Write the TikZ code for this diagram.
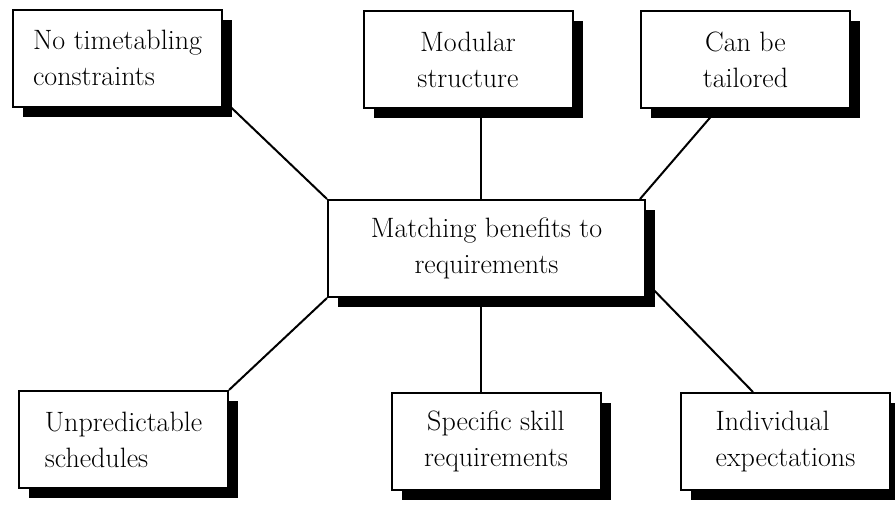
\documentclass[tikz,border=0pt]{standalone}
\usetikzlibrary{shadows,backgrounds}
\begin{document}
\begin{tikzpicture}[
  x=1pt, y=-1pt,
  every node/.style={font=\fontsize{28}{36}\selectfont},
  card/.style={draw, line width=2pt, fill=white, inner sep=0pt,
    minimum width=209pt, minimum height=97pt,
    drop shadow={shadow xshift=10pt, shadow yshift=-10pt, fill=black, opacity=1}},
  hub/.style={card, minimum width=317pt, align=center},
  link/.style={draw, line width=2pt}
]
  \useasboundingbox (0,0) rectangle (895,504);

  % benefits
  \node[card, align=left]   (notime)  at (117.5,58)  {No timetabling\\constraints};
  \node[card, align=center] (modular) at (468,59.5)  {Modular\\structure};
  \node[card, align=center] (tailor)  at (745.5,59.5) {Can be\\tailored};

  % hub
  \node[hub] (hub) at (486.5,248.5) {Matching benefits to\\requirements};

  % requirements
  \node[card, align=left]   (unpred) at (123.5,439.5) {Unpredictable\\schedules};
  \node[card, align=center] (skill)  at (496,441.5)   {Specific skill\\requirements};
  \node[card, align=left]   (indiv)  at (785.5,441.5) {Individual\\expectations};

  \coordinate (stem) at (481,0);

  \begin{scope}[on background layer]
    \draw[link] ([shift={(4,-4)}]notime.south east) -- (hub.north west);
    \draw[link] (modular.south -| stem) -- (hub.north -| stem);
    \draw[link] ([xshift=-28pt]tailor.south) -- ([xshift=-6pt]hub.north east);
    \draw[link] (hub.south west) -- (unpred.north east);
    \draw[link] (hub.south -| stem) -- (skill.north -| stem);
    \draw[link] ([yshift=16pt]hub.south east) -- ([xshift=73pt]indiv.north west);
  \end{scope}
\end{tikzpicture}
\end{document}
